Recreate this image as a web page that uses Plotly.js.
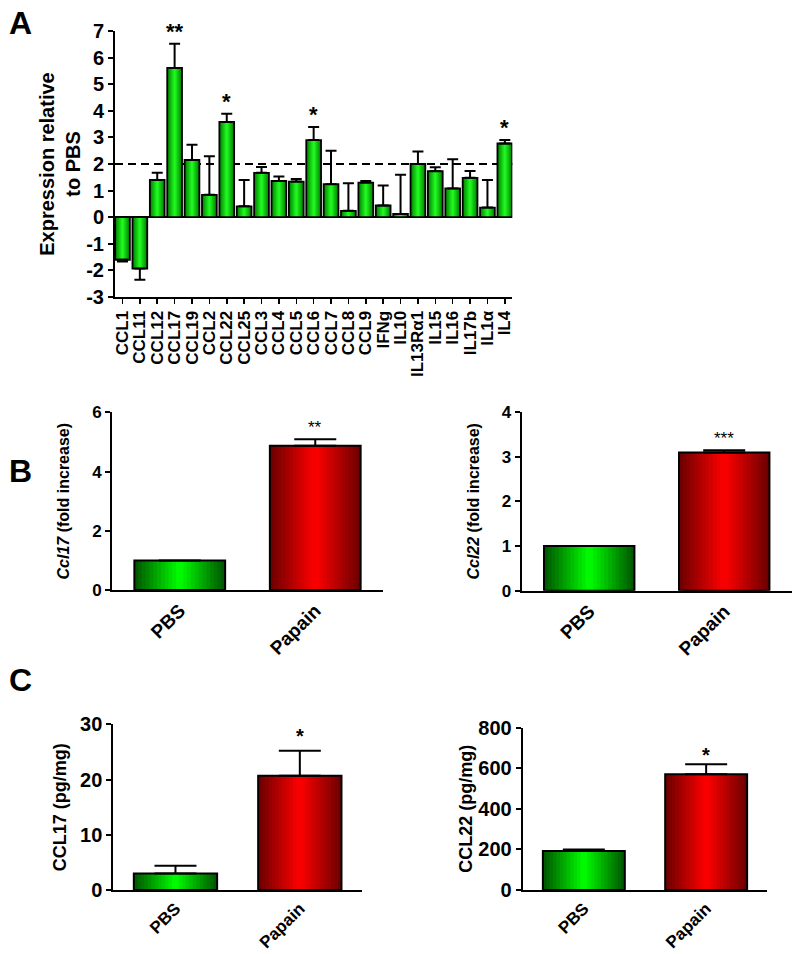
<!DOCTYPE html>
<html>
<head>
<meta charset="utf-8">
<script src="https://cdn.plot.ly/plotly-3.0.1.min.js"></script>
<style>html,body{margin:0;padding:0;background:#fff;}#chart{width:800px;height:954px;}</style>
</head>
<body>
<div id="chart"></div>
<script>
// ---------- DATA ----------
const catsA = ['CCL1','CCL11','CCL12','CCL17','CCL19','CCL2','CCL22','CCL25','CCL3','CCL4','CCL5','CCL6','CCL7','CCL8','CCL9','IFNg','IL10','IL13Rα1','IL15','IL16','IL17b','IL1α','IL4'];
const meanA = [-1.60,-1.93,1.40,5.61,2.15,0.84,3.58,0.41,1.67,1.36,1.34,2.90,1.24,0.24,1.30,0.44,0.12,2.00,1.73,1.08,1.48,0.36,2.77];
const semA  = [0.07,0.42,0.27,0.91,0.57,1.45,0.31,0.99,0.22,0.17,0.10,0.49,1.26,1.04,0.06,0.75,1.48,0.47,0.15,1.10,0.26,1.04,0.13];
const sigA  = ['','','','**','','','*','','','','','*','','','','','','','','','','','*'];
const yTickValsA = [-3,-2,-1,0,1,2,3,4,5,6,7];
const yTickTextA = ['-3','-2','-1','0','1','2','3','4','5','6','7'];
const thresholdA = 2;

const groups = ['PBS','Papain'];
const ccl17Fold = [1.0, 4.87];
const ccl17FoldSem = [0, 0.22];
const ccl17FoldSig = ['', '**'];
const ccl22Fold = [1.0, 3.09];
const ccl22FoldSem = [0, 0.05];
const ccl22FoldSig = ['', '***'];
const ccl17Prot = [3.0, 20.7];
const ccl17ProtSem = [1.4, 4.5];
const ccl17ProtSig = ['', '*'];
const ccl22Prot = [192, 570];
const ccl22ProtSem = [8, 50];
const ccl22ProtSig = ['', '*'];

// ---------- STYLE HELPERS ----------
const FONT = 'Liberation Sans, Arial, sans-serif';
const NL = 12;
function hex2rgb(h){h=h.replace('#','');return [parseInt(h.substr(0,2),16),parseInt(h.substr(2,2),16),parseInt(h.substr(4,2),16)];}
function mix(a,b,t){const A=hex2rgb(a),B=hex2rgb(b);return 'rgb('+A.map((v,i)=>Math.round(v+(B[i]-v)*t)).join(',')+')';}

function gradientBars(x, y, width, edge, center, xa, ya){
  const tr = [];
  for(let k=0;k<NL;k++){
    const t = (k+0.5)/NL;
    const col = Array.isArray(edge) ? edge.map((e,i)=>mix(e,center[i],t)) : mix(edge,center,t);
    tr.push({type:'bar', x:x, y:y, width: width*(1-k/NL), xaxis:xa, yaxis:ya,
      marker:{color:col, opacity:1, line:{width:0}}, hoverinfo:'skip', showlegend:false});
  }
  return tr;
}
function outlineBars(x, y, sem, width, xa, ya, lw, capw){
  const up = y.map((v,i)=> v>=0 ? sem[i] : 0);
  const dn = y.map((v,i)=> v<0 ? sem[i] : 0);
  return {type:'bar', x:x, y:y, width:width, xaxis:xa, yaxis:ya,
    marker:{color:'rgba(0,0,0,0)', line:{color:'#000', width:lw}},
    error_y:{type:'data', array:up, arrayminus:dn, symmetric:false, color:'#000', thickness:2, width:capw},
    hoverinfo:'skip', showlegend:false};
}
function starAnnots(x, y, sem, sig, xa, ya, fs, dist, bold){
  const out = [];
  sig.forEach((s,i)=>{
    if(!s) return;
    out.push({xref:xa, yref:ya, x:x[i], y:y[i]+sem[i], text:s, showarrow:false,
      xanchor:'center', yanchor:'middle', yshift: dist - 0.22*fs,
      font:{family:FONT, size:fs, color:'#000', weight: bold?'bold':'normal'}});
  });
  return out;
}

const greenEdgeA = '#007a00', greenCenterA = '#22ff22';
const edgeBC = ['#005200', '#6a0000'];
const centerBC = ['#00ff00', '#ff0000'];

let traces = [];
traces = traces.concat(gradientBars(catsA, meanA, 0.85, greenEdgeA, greenCenterA, 'x', 'y'));
traces.push(outlineBars(catsA, meanA, semA, 0.85, 'x', 'y', 1.8, 5.5));

traces = traces.concat(gradientBars(groups, ccl17Fold, 0.67, edgeBC, centerBC, 'x2', 'y2'));
traces.push(outlineBars(groups, ccl17Fold, ccl17FoldSem, 0.67, 'x2', 'y2', 2, 21));
traces = traces.concat(gradientBars(groups, ccl22Fold, 0.67, edgeBC, centerBC, 'x3', 'y3'));
traces.push(outlineBars(groups, ccl22Fold, ccl22FoldSem, 0.67, 'x3', 'y3', 2, 21));
traces = traces.concat(gradientBars(groups, ccl17Prot, 0.67, edgeBC, centerBC, 'x4', 'y4'));
traces.push(outlineBars(groups, ccl17Prot, ccl17ProtSem, 0.67, 'x4', 'y4', 2, 21));
traces = traces.concat(gradientBars(groups, ccl22Prot, 0.67, edgeBC, centerBC, 'x5', 'y5'));
traces.push(outlineBars(groups, ccl22Prot, ccl22ProtSem, 0.67, 'x5', 'y5', 2, 21));

const H = 954, W = 800;
const px = v => v/W;
const py = v => 1 - v/H;

const baseY = {showline:true, linecolor:'#000', linewidth:2, ticks:'outside', ticklen:5, tickwidth:2, tickcolor:'#000',
  showgrid:false, zeroline:false, fixedrange:true};
const baseXBC = {showline:true, linecolor:'#000', linewidth:2, ticks:'', showgrid:false, zeroline:false,
  tickangle:-45, range:[-0.5,1.5], fixedrange:true};

const layout = {
  width:W, height:H, margin:{l:0,r:0,t:0,b:0}, paper_bgcolor:'#fff', plot_bgcolor:'rgba(0,0,0,0)',
  barmode:'overlay', showlegend:false, font:{family:FONT, color:'#000'},
  xaxis:{domain:[px(115), px(512.3)], anchor:'y', range:[-0.43, 22.43], showline:true, linecolor:'#000', linewidth:2,
    tickmode:'array', tickvals:catsA, ticktext:catsA,
    ticks:'outside', ticklen:5, tickwidth:1.5, tickcolor:'#000', tickangle:-90, showgrid:false, zeroline:false,
    tickfont:{family:FONT, size:17, weight:'bold', color:'#000'}, fixedrange:true},
  yaxis:Object.assign({}, baseY, {domain:[py(297), py(31)], anchor:'x', range:[-3,7], tickvals:yTickValsA, ticktext:yTickTextA,
    zeroline:true, zerolinecolor:'#000', zerolinewidth:2,
    tickfont:{family:FONT, size:20, weight:'bold', color:'#000'},
    title:{text:'Expression relative<br>to PBS', font:{family:FONT, size:20, weight:'bold', color:'#000'}}}),

  xaxis2:Object.assign({}, baseXBC, {domain:[px(112), px(383)], anchor:'y2', tickfont:{family:FONT, size:19, weight:'bold', color:'#000'}}),
  yaxis2:Object.assign({}, baseY, {domain:[py(590), py(412.4)], anchor:'x2', range:[0,6], dtick:2,
    tickfont:{family:FONT, size:17, weight:'bold', color:'#000'},
    title:{text:'<i>Ccl17</i> (fold increase)', font:{family:FONT, size:16, weight:'bold', color:'#000'}}}),
  xaxis3:Object.assign({}, baseXBC, {domain:[px(521.7), px(791.7)], anchor:'y3', tickfont:{family:FONT, size:19, weight:'bold', color:'#000'}}),
  yaxis3:Object.assign({}, baseY, {domain:[py(590.7), py(411.9)], anchor:'x3', range:[0,4], dtick:1,
    tickfont:{family:FONT, size:17, weight:'bold', color:'#000'},
    title:{text:'<i>Ccl22</i> (fold increase)', font:{family:FONT, size:16, weight:'bold', color:'#000'}}}),

  xaxis4:Object.assign({}, baseXBC, {domain:[px(113.3), px(362)], anchor:'y4', tickfont:{family:FONT, size:17, weight:'bold', color:'#000'}}),
  yaxis4:Object.assign({}, baseY, {domain:[py(890), py(724.3)], anchor:'x4', range:[0,30], dtick:10,
    tickfont:{family:FONT, size:20, weight:'bold', color:'#000'},
    title:{text:'CCL17 (pg/mg)', font:{family:FONT, size:18, weight:'bold', color:'#000'}}}),
  xaxis5:Object.assign({}, baseXBC, {domain:[px(522.7), px(767.3)], anchor:'y5', tickfont:{family:FONT, size:17, weight:'bold', color:'#000'}}),
  yaxis5:Object.assign({}, baseY, {domain:[py(890), py(727.7)], anchor:'x5', range:[0,800], dtick:200,
    tickfont:{family:FONT, size:20, weight:'bold', color:'#000'},
    title:{text:'CCL22 (pg/mg)', font:{family:FONT, size:18, weight:'bold', color:'#000'}}}),

  shapes:[{type:'line', xref:'x domain', yref:'y', x0:0, x1:1, y0:thresholdA, y1:thresholdA, layer:'below',
    line:{color:'#000', width:2, dash:'8px,5px'}}],
  annotations:[]
};

const letters = [['A',23],['B',471],['C',680]];
letters.forEach(([t,yc])=>layout.annotations.push({xref:'paper', yref:'paper', x:px(7), y:py(yc), xanchor:'left', yanchor:'middle',
  text:t, showarrow:false, font:{family:FONT, size:32, weight:'bold', color:'#000'}}));

layout.annotations = layout.annotations
  .concat(starAnnots(catsA, meanA, semA, sigA, 'x', 'y', 22, 17, true))
  .concat(starAnnots(groups, ccl17Fold, ccl17FoldSem, ccl17FoldSig, 'x2', 'y2', 17, 16, false))
  .concat(starAnnots(groups, ccl22Fold, ccl22FoldSem, ccl22FoldSig, 'x3', 'y3', 17, 16, false))
  .concat(starAnnots(groups, ccl17Prot, ccl17ProtSem, ccl17ProtSig, 'x4', 'y4', 20, 19, true))
  .concat(starAnnots(groups, ccl22Prot, ccl22ProtSem, ccl22ProtSig, 'x5', 'y5', 20, 14, true));

Plotly.newPlot('chart', traces, layout, {staticPlot:true, displayModeBar:false});
</script>
</body>
</html>
